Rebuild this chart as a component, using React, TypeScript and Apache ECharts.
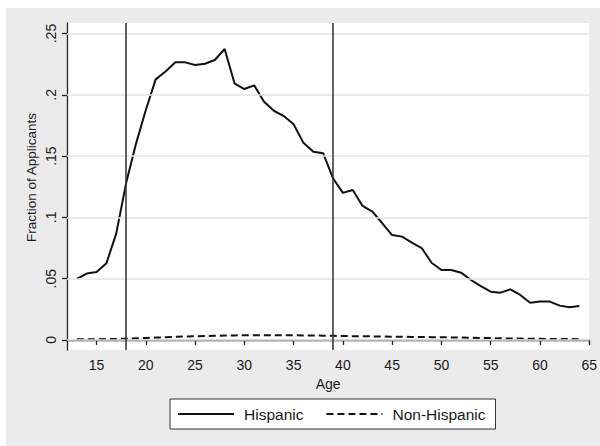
import React, { useEffect, useRef } from "react";
import * as echarts from "echarts";

const ages = [13,14,15,16,17,18,19,20,21,22,23,24,25,26,27,28,29,30,31,32,33,34,35,36,37,38,39,40,41,42,43,44,45,46,47,48,49,50,51,52,53,54,55,56,57,58,59,60,61,62,63,64];
const hispanic = [0.0498,0.0542,0.0555,0.0625,0.087,0.128,0.160,0.1876,0.2126,0.219,0.2265,0.2265,0.2243,0.2254,0.2284,0.2374,0.2094,0.2047,0.2077,0.1944,0.187,0.1827,0.176,0.1608,0.1536,0.1523,0.1319,0.120,0.1223,0.1093,0.1047,0.0952,0.0856,0.0843,0.0794,0.0750,0.063,0.0571,0.0571,0.0549,0.0489,0.044,0.0394,0.0386,0.0413,0.0367,0.0304,0.0313,0.0313,0.028,0.0266,0.0277];
const nonHispanic = [0.0005,0.0005,0.0006,0.0007,0.0008,0.001,0.0013,0.0016,0.0019,0.0022,0.0025,0.0028,0.003,0.0032,0.0034,0.0036,0.0037,0.0038,0.0038,0.0038,0.0038,0.0038,0.0038,0.0037,0.0036,0.0035,0.0034,0.0032,0.0031,0.003,0.0029,0.0028,0.0027,0.0026,0.0025,0.0024,0.0023,0.0022,0.0021,0.002,0.0018,0.0016,0.0015,0.0013,0.0012,0.0011,0.001,0.0009,0.0008,0.0007,0.0007,0.0006];
const xTicks = [15,20,25,30,35,40,45,50,55,60,65];
const yTicks = [0,0.05,0.1,0.15,0.2,0.25];
const yTickLabels = ["0",".05",".1",".15",".2",".25"];
const refAges = [18,39];
const yTitle = "Fraction of Applicants";

const FONT = "Liberation Sans, Arial, sans-serif";
const TXT = "#1a1a1a";

export default function App() {
  const ref = useRef<HTMLDivElement>(null);
  useEffect(() => {
    if (!ref.current) return;
    const chart = echarts.init(ref.current, undefined, { renderer: "svg" });
    const markData: any[] = [
      ...yTicks.map((v) => ({ yAxis: v, lineStyle: { color: "#e3e3e3", width: 1.5, type: "solid" } })),
      ...refAges.map((a) => ({ xAxis: a, lineStyle: { color: "#3a3a3a", width: 1.6, type: "solid" } })),
    ];
    chart.setOption({
      animation: false,
      backgroundColor: "#ffffff",
      textStyle: { fontFamily: FONT, color: TXT },
      graphic: [
        { type: "rect", z: -10, silent: true, shape: { x: 6, y: 8, width: 594, height: 438 }, style: { fill: "#ebebeb" } },
        {
          type: "text",
          x: 31.7,
          y: 177.5,
          rotation: Math.PI / 2,
          silent: true,
          style: { text: yTitle, fontFamily: FONT, fontSize: 13.5, fill: TXT, align: "center", verticalAlign: "middle" },
        },
      ],
      grid: { left: 67, top: 23, width: 530, height: 327, show: true, backgroundColor: "#ffffff", borderWidth: 0 },
      legend: {
        data: ["Hispanic", "Non-Hispanic"],
        left: 170,
        top: 399,
        orient: "horizontal",
        padding: [7, 10, 7, 7],
        itemWidth: 56,
        itemHeight: 14,
        itemGap: 22,
        backgroundColor: "#ffffff",
        borderColor: "#333333",
        borderWidth: 1,
        borderRadius: 0,
        itemStyle: { color: "transparent", borderColor: "transparent", borderWidth: 0, opacity: 0 },
        textStyle: { fontFamily: FONT, fontSize: 15.5, color: TXT, padding: [0, 0, 0, 5] },
      },
      xAxis: {
        type: "value",
        min: 12,
        max: 65,
        name: "Age",
        nameLocation: "middle",
        nameGap: 25,
        nameTextStyle: { fontFamily: FONT, fontSize: 14, color: TXT },
        axisLine: { show: true, lineStyle: { color: "#222222", width: 1.3 } },
        axisTick: { show: true, length: 5, customValues: xTicks, lineStyle: { color: "#222222", width: 1.3 } },
        axisLabel: { customValues: xTicks, margin: 8, fontFamily: FONT, fontSize: 14, color: TXT },
        splitLine: { show: false },
      },
      yAxis: {
        type: "value",
        min: -0.0082,
        max: 0.2586,
        axisLine: { show: true, lineStyle: { color: "#222222", width: 1.3 } },
        axisTick: { show: true, length: 5, customValues: yTicks, lineStyle: { color: "#222222", width: 1.3 } },
        axisLabel: {
          customValues: yTicks,
          rotate: 90,
          margin: 9,
          fontFamily: FONT,
          fontSize: 14,
          color: TXT,
          formatter: (v: number) => {
            let best = 0;
            yTicks.forEach((t, i) => { if (Math.abs(t - v) < Math.abs(yTicks[best] - v)) best = i; });
            return yTickLabels[best];
          },
        },
        splitLine: { show: false },
      },
      series: [
        {
          name: "refs",
          type: "line",
          data: [],
          z: 1,
          silent: true,
          markLine: { silent: true, symbol: "none", label: { show: false }, animation: false, data: markData },
        },
        {
          name: "Hispanic",
          type: "line",
          z: 3,
          data: ages.map((a, i) => [a, hispanic[i]]),
          showSymbol: false,
          symbol: "none",
          lineStyle: { color: "#111111", width: 2 },
          itemStyle: { color: "#111111" },
        },
        {
          name: "Non-Hispanic",
          type: "line",
          z: 3,
          data: ages.map((a, i) => [a, nonHispanic[i]]),
          showSymbol: false,
          symbol: "none",
          lineStyle: { color: "#111111", width: 2, type: [7, 4] },
          itemStyle: { color: "#111111" },
        },
      ],
    });
    return () => chart.dispose();
  }, []);
  return <div ref={ref} style={{ position: "fixed", left: 0, top: 0, width: 600, height: 446 }} />;
}
